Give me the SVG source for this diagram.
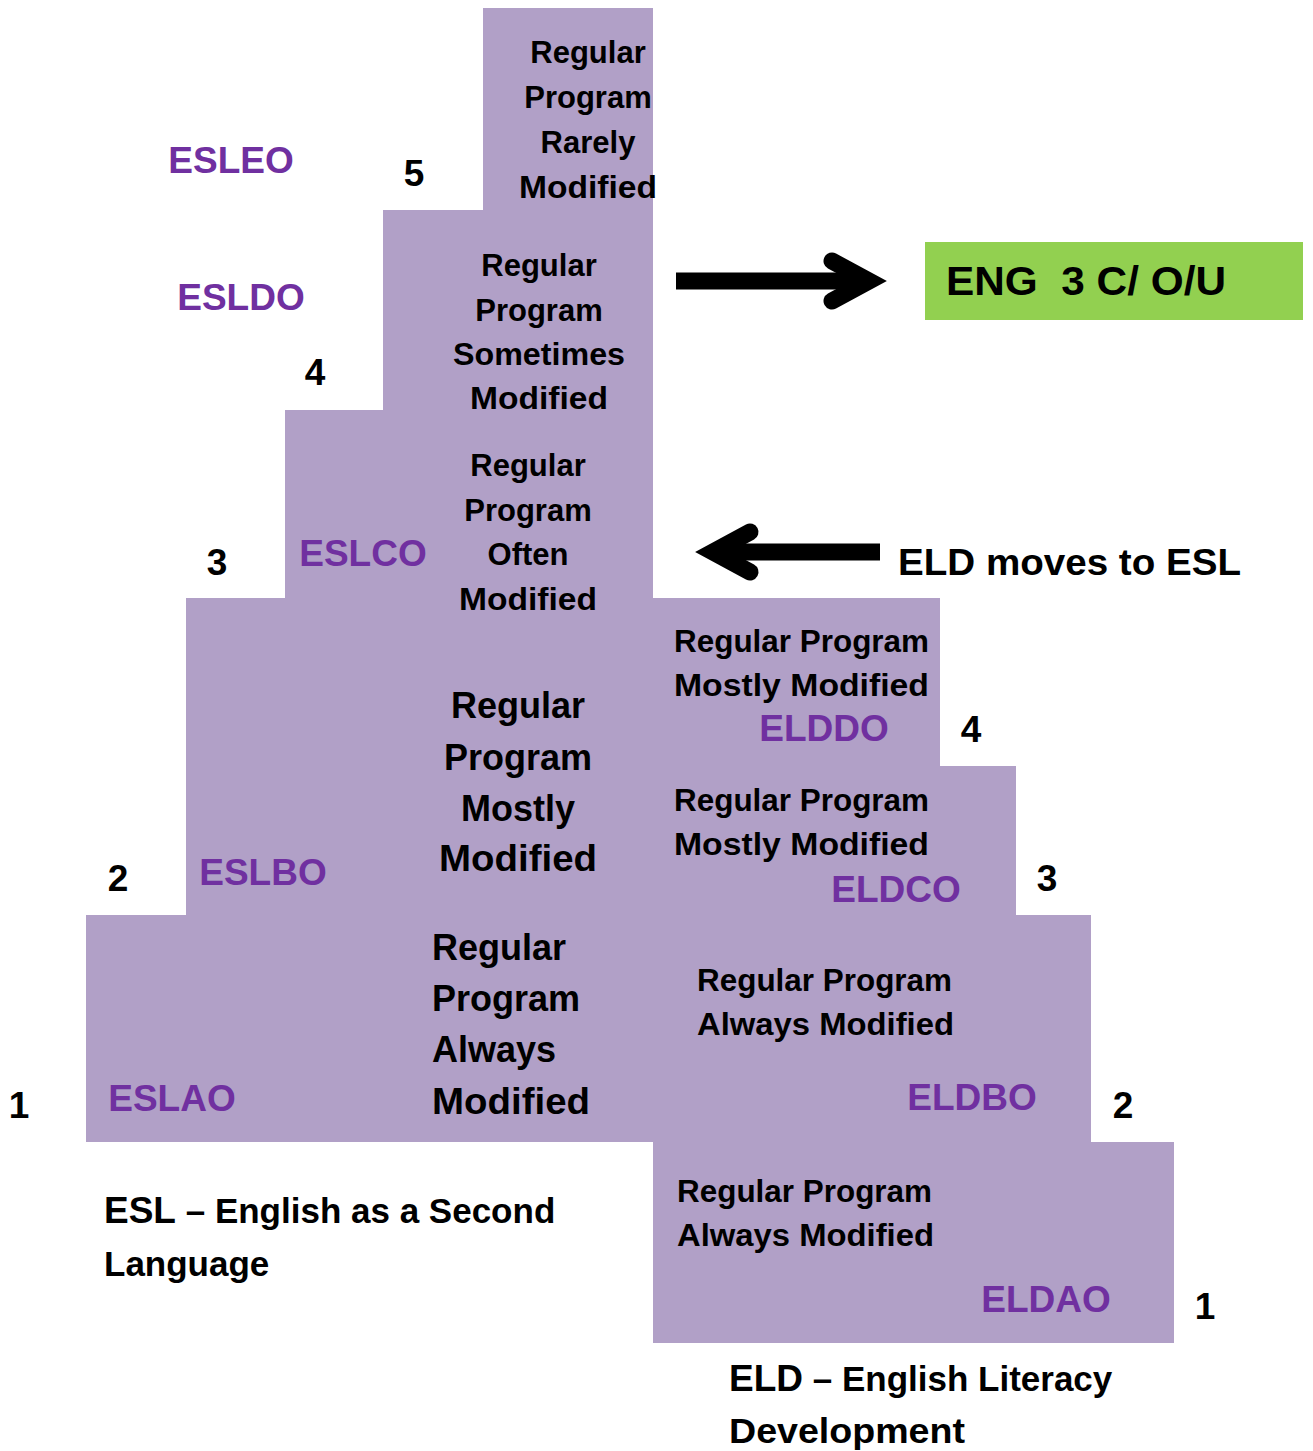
<svg xmlns="http://www.w3.org/2000/svg" width="1313" height="1451" viewBox="0 0 1313 1451">
<style>
text{font-family:"Liberation Sans",Arial,sans-serif;font-weight:bold;fill:#000}
.s31{font-size:31px}
.s36{font-size:36px}
.num{font-size:37px}
.lab{font-size:37px;fill:#7030A0}
.c{text-anchor:middle}
.arrow{fill:none;stroke:#000;stroke-width:17}
</style>
<rect width="1313" height="1451" fill="#fff"/>
<g id="staircase">
<path d="M483,8 L653,8 L653,598 L940,598 L940,766 L1016,766 L1016,915 L1091,915 L1091,1142 L1174,1142 L1174,1343 L653,1343 L653,1142 L86,1142 L86,915 L186,915 L186,598 L285,598 L285,410 L383,410 L383,210 L483,210 Z" fill="#B1A0C7"/>
</g>
<g id="esl-level5">
<text class="s31 c" x="588" y="63">Regular</text>
<text class="s31 c" x="588" y="108">Program</text>
<text class="s31 c" x="588" y="153">Rarely</text>
<text class="s31 c" x="588" y="198" textLength="138" lengthAdjust="spacingAndGlyphs">Modified</text>
<text class="lab c" x="231" y="173">ESLEO</text>
<text class="num c" x="414" y="186">5</text>
</g>
<g id="esl-level4">
<text class="s31 c" x="539" y="276">Regular</text>
<text class="s31 c" x="539" y="321">Program</text>
<text class="s31 c" x="539" y="365" textLength="172" lengthAdjust="spacingAndGlyphs">Sometimes</text>
<text class="s31 c" x="539" y="409" textLength="138" lengthAdjust="spacingAndGlyphs">Modified</text>
<text class="lab c" x="241" y="310">ESLDO</text>
<text class="num c" x="315" y="385">4</text>
</g>
<g id="esl-level3">
<text class="s31 c" x="528" y="476">Regular</text>
<text class="s31 c" x="528" y="521">Program</text>
<text class="s31 c" x="528" y="565">Often</text>
<text class="s31 c" x="528" y="610" textLength="138" lengthAdjust="spacingAndGlyphs">Modified</text>
<text class="lab c" x="363" y="566">ESLCO</text>
<text class="num c" x="217" y="575">3</text>
</g>
<g id="esl-level2">
<text class="s36 c" x="518" y="718">Regular</text>
<text class="s36 c" x="518" y="770">Program</text>
<text class="s36 c" x="518" y="821">Mostly</text>
<text class="s36 c" x="518" y="871" textLength="158" lengthAdjust="spacingAndGlyphs">Modified</text>
<text class="lab c" x="263" y="885">ESLBO</text>
<text class="num c" x="118" y="891">2</text>
</g>
<g id="esl-level1">
<text class="s36" x="432" y="960">Regular</text>
<text class="s36" x="432" y="1011">Program</text>
<text class="s36" x="432" y="1062">Always</text>
<text class="s36" x="432" y="1114" textLength="158" lengthAdjust="spacingAndGlyphs">Modified</text>
<text class="lab c" x="172" y="1111">ESLAO</text>
<text class="num c" x="19" y="1118">1</text>
</g>
<g id="eld-level4">
<text class="s31" x="674" y="652" textLength="255" lengthAdjust="spacingAndGlyphs">Regular Program</text>
<text class="s31" x="674" y="696" textLength="255" lengthAdjust="spacingAndGlyphs">Mostly Modified</text>
<text class="lab c" x="824" y="741">ELDDO</text>
<text class="num c" x="971" y="742">4</text>
</g>
<g id="eld-level3">
<text class="s31" x="674" y="811" textLength="255" lengthAdjust="spacingAndGlyphs">Regular Program</text>
<text class="s31" x="674" y="855" textLength="255" lengthAdjust="spacingAndGlyphs">Mostly Modified</text>
<text class="lab c" x="896" y="902">ELDCO</text>
<text class="num c" x="1047" y="891">3</text>
</g>
<g id="eld-level2">
<text class="s31" x="697" y="991" textLength="255" lengthAdjust="spacingAndGlyphs">Regular Program</text>
<text class="s31" x="697" y="1035" textLength="257" lengthAdjust="spacingAndGlyphs">Always Modified</text>
<text class="lab c" x="972" y="1110">ELDBO</text>
<text class="num c" x="1123" y="1118">2</text>
</g>
<g id="eld-level1">
<text class="s31" x="677" y="1202" textLength="255" lengthAdjust="spacingAndGlyphs">Regular Program</text>
<text class="s31" x="677" y="1246" textLength="257" lengthAdjust="spacingAndGlyphs">Always Modified</text>
<text class="lab c" x="1046" y="1312">ELDAO</text>
<text class="num c" x="1205" y="1319">1</text>
</g>
<g id="eng-box">
<rect x="925" y="242" width="378" height="78" fill="#92D050"/>
<text x="946" y="295" style="font-size:40px" xml:space="preserve" textLength="280" lengthAdjust="spacingAndGlyphs">ENG  3 C/ O/U</text>
</g>
<g id="eld-moves">
<text x="898" y="575" style="font-size:37px" textLength="343" lengthAdjust="spacingAndGlyphs">ELD moves to ESL</text>
</g>
<g id="legend-esl">
<text x="104" y="1223" style="font-size:35px"><tspan style="font-size:37px">ESL</tspan> – English as a Second</text>
<text x="104" y="1276" style="font-size:35px">Language</text>
</g>
<g id="legend-eld">
<text x="729" y="1391" style="font-size:35px"><tspan style="font-size:37px">ELD</tspan> – English Literacy</text>
<text x="729" y="1443" style="font-size:35px" textLength="236" lengthAdjust="spacingAndGlyphs">Development</text>
</g>
<g id="connectors">
<line class="arrow" x1="676" y1="281" x2="866" y2="281"/>
<polyline class="arrow" points="832,261 869,281 832,301" stroke-linejoin="miter" stroke-linecap="round"/>
<line class="arrow" x1="880" y1="552" x2="718" y2="552"/>
<polyline class="arrow" points="750,532 713,552 750,572" stroke-linejoin="miter" stroke-linecap="round"/>
</g>
</svg>
